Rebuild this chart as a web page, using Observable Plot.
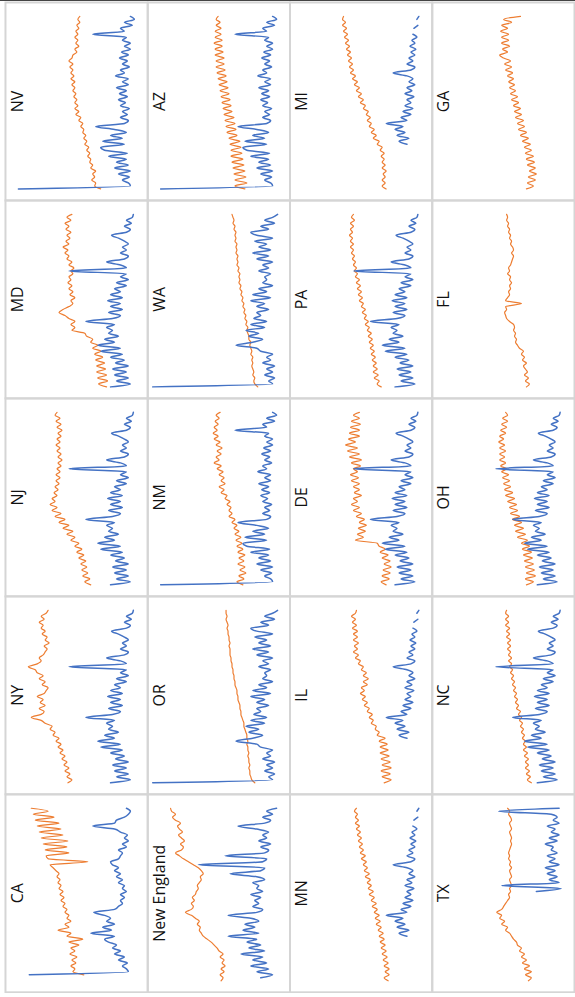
<!DOCTYPE html>
<html><head><meta charset="utf-8">
<script src="https://cdn.jsdelivr.net/npm/d3@7"></script>
<script src="https://cdn.jsdelivr.net/npm/@observablehq/plot@0.6"></script>
<style>
html,body{margin:0;padding:0;background:#fff;overflow:hidden;}
#topline{position:absolute;left:0;top:0;width:100%;height:1px;background:#444;}
</style></head><body>
<div id="chart"></div><div id="topline"></div>
<script>
// panel layout (as pictured, rotated view): rows of state names
const grid = [["NV","AZ","MI","GA"],["MD","WA","PA","FL"],["NJ","NM","DE","OH"],["NY","OR","IL","NC"],["CA","New England","MN","TX"]];

// orange series (one per state), index = time step
const NV_orange = [44,50,49,53,50,52,49,54,52,55,54,57,55,58,56,60,58,61,59,62,61,64,62,66,64,69,66,70,67,70,68,71,69,72,70,73,70,74,71,74,72,75,72,76,73,72,68,70,66,69,67,70,67,69,66,68,65,67,65];
const AZ_orange = [42,52,40,52,41,53,42,54,43,55,44,56,45,56,46,57,47,58,50,60,51,61,52,62,53,63,55,64,56,65,57,66,58,67,59,68,60,69,61,70,62,71,63,71,63,72,64,72,65,73,65,72,66,72,66,71,67,71,69];
const MI_orange = [43,47,44,47,44,46,43,47,44,47,45,48,45,49,47,52,50,56,53,58,55,60,58,62,59,63,61,66,64,69,66,71,68,73,70,75,72,77,74,79,76,80,77,81,78,82,79,83,80,84,81,85,82,86,83,87,84,87,86];
const GA_orange = [45,38,44,36,43,35,42,36,44,37,45,38,46,40,47,41,49,43,51,45,53,47,54,48,56,50,57,51,58,53,60,54,61,56,62,57,63,58,64,59,66,60,67,61,68,72,64,69,62,70,63,70,63,71,64,70,60,68,51];
const MD_orange = [38,46,37,47,38,48,39,48,40,49,42,50,44,52,47,54,52,58,60,73,70,74,70,76,80,86,82,76,72,74,70,75,72,76,73,77,74,76,72,74,71,76,73,78,76,80,77,82,76,79,75,78,74,79,76,80,74,78,73];
const WA_orange = [29,32,33,32,34,33,34,35,34,35,34,36,35,36,37,36,38,38,39,40,39,41,40,42,41,43,42,44,43,45,44,46,45,47,46,48,47,48,47,49,48,50,49,50,49,51,50,51,50,52,51,52,51,53,52,54,53,54,55];
const PA_orange = [48,52,50,55,51,56,52,56,53,57,54,58,55,59,56,60,57,61,58,62,60,64,61,65,63,67,64,68,66,70,67,71,68,72,69,73,70,74,72,75,73,76,74,77,75,78,76,79,76,79,77,80,77,79,76,79,75,78,76];
const FL_orange = [45,42,46,43,47,44,46,48,45,49,47,50,48,52,54,56,55,57,56,58,57,58,62,65,66,67,65,66,50,66,64,62,63,61,62,60,62,61,64,62,63,61,60,59,58,60,58,59,61,60,62,61,63,62,64,63,65,64,65];
const NJ_orange = [54,60,55,62,57,63,58,64,59,66,61,68,63,70,66,74,70,78,72,82,76,86,80,90,84,93,88,95,90,93,88,91,87,90,86,89,85,89,85,88,84,87,83,87,84,88,85,89,85,88,84,87,83,88,84,89,85,90,88];
const NM_orange = [44,50,43,48,41,47,42,49,43,48,42,49,44,50,45,51,46,52,48,53,50,55,52,58,55,58,56,60,57,62,60,66,63,68,62,66,63,68,64,70,66,73,68,71,66,70,65,71,67,73,69,74,70,73,69,72,68,71,67];
const DE_orange = [43,48,40,47,39,46,38,45,39,47,41,49,44,50,52,74,66,72,64,71,63,70,65,73,68,76,70,78,72,76,68,75,70,76,70,78,71,79,72,76,69,78,68,80,70,82,72,84,74,81,70,80,70,79,69,78,70,76,70];
const OH_orange = [45,38,46,36,45,37,46,38,47,39,48,40,49,42,50,44,54,46,56,48,57,50,59,52,61,54,62,55,64,57,66,59,67,61,68,62,69,63,70,65,71,66,72,67,72,66,72,67,73,68,72,66,71,65,70,64,69,64,66];
const NY_orange = [77,73,78,75,80,76,81,78,83,80,85,82,87,84,89,86,92,90,95,93,100,104,114,104,101,106,100,105,102,108,101,99,97,103,100,106,102,108,110,117,108,104,106,102,100,98,101,96,100,98,103,100,104,102,106,101,104,99,97];
const OR_orange = [32,35,36,37,37,38,37,38,38,39,38,39,39,40,39,40,40,41,42,43,43,44,45,46,46,47,47,48,49,49,50,50,51,52,52,53,53,54,54,55,55,56,56,57,57,57,58,57,58,58,59,59,60,59,60,61,60,61,61];
const IL_orange = [45,38,47,39,48,38,47,39,48,40,49,41,49,42,50,44,52,50,54,53,58,56,60,57,62,60,65,62,67,64,69,65,68,62,66,61,66,63,68,66,71,69,74,71,76,72,75,71,76,72,76,72,77,73,77,74,78,74,73];
const NC_orange = [40,44,41,45,42,46,43,46,43,47,44,48,45,48,46,49,47,50,48,51,49,52,50,53,51,55,53,56,54,57,55,58,56,59,57,60,58,61,59,62,60,63,60,63,61,64,61,64,61,65,62,65,62,66,63,66,63,66,65];
const CA_orange = [null,null,61,72,70,74,69,73,68,75,70,74,66,76,62,78,74,87,76,80,74,78,76,80,78,82,80,84,81,85,82,86,84,87,85,88,86,89,92,95,57,97,99,76,100,78,102,77,104,82,106,84,108,86,110,91,112,97,114];
const NE_orange = [66,64,67,63,66,62,65,63,67,64,68,70,73,76,80,84,86,88,87,90,88,92,96,102,96,94,96,93,95,92,91,89,90,88,86,87,84,86,89,94,99,104,108,112,106,104,107,103,106,109,105,108,110,107,112,115,112,116,117];
const MN_orange = [41,45,40,44,40,45,41,46,42,47,43,48,44,49,45,50,46,51,48,53,49,54,50,55,52,57,53,58,55,60,56,61,58,62,59,64,60,65,62,66,63,68,64,69,66,70,67,71,68,72,69,73,70,74,71,74,72,75,73];
const TX_orange = [43,40,46,40,47,42,49,45,50,47,52,50,54,55,58,60,62,66,64,70,67,72,70,75,70,68,66,64,62,63,61,62,60,61,62,60,61,62,60,62,61,63,62,63,62,61,60,61,60,61,62,60,61,62,60,61,63,62,64];

// blue series (regional, shared by several panels)
const B_W  = [127,14,16,22,15,26,14,30,16,28,18,36,17,40,44,20,42,22,34,18,30,49,20,16,24,17,22,15,24,19,26,17,25,18,28,16,22,16,29,20,24,15,22,17,25,16,23,14,20,14,22,18,52,20,24,12,20,10,14];
const B_NW = [135,14,18,12,22,14,20,12,24,16,20,14,26,30,51,34,24,38,28,41,22,36,20,33,26,30,18,30,22,36,16,34,20,28,14,24,20,22,16,28,18,24,14,30,18,34,16,28,20,32,14,30,36,18,26,12,22,14,9];
const B_E  = [34,14,28,16,30,18,32,16,29,20,34,22,44,24,47,30,40,26,36,32,38,30,59,32,24,36,22,34,24,37,22,34,24,30,18,28,16,24,18,76,18,24,38,20,16,24,18,22,16,20,26,33,18,14,20,13,18,12,11];
const B_MW = [null,null,null,null,null,null,null,null,null,null,null,null,null,null,null,22,30,20,32,24,34,26,43,22,28,18,26,16,24,18,22,15,24,17,22,14,20,16,22,36,18,14,22,16,20,14,18,13,19,14,17,12,16,null,15,11,null,12,10];
const B_CA = [null,null,116,16,18,22,17,26,20,30,24,32,28,36,40,30,54,33,42,30,38,34,40,51,30,26,22,24,20,24,18,22,20,26,22,28,24,30,26,32,34,26,24,22,26,18,22,16,20,17,24,30,52,30,28,20,16,14,18];
const B_NE = [null,26,14,30,18,36,20,34,24,46,22,38,26,40,30,59,28,44,32,42,28,36,59,30,24,34,28,32,26,36,24,30,28,34,22,30,57,26,22,89,24,20,62,22,18,26,16,28,20,24,18,30,49,22,16,24,14,20,10];
const B_TX = [null,null,null,null,null,null,null,null,null,null,null,null,null,null,null,null,null,null,null,null,null,null,null,null,null,null,null,null,null,null,35,10,70,12,22,14,24,16,26,12,22,16,24,14,20,18,26,14,22,12,20,16,24,12,18,14,20,73,12];

const orangeOf = {NV:NV_orange, AZ:AZ_orange, MI:MI_orange, GA:GA_orange, MD:MD_orange, WA:WA_orange, PA:PA_orange, FL:FL_orange,
  NJ:NJ_orange, NM:NM_orange, DE:DE_orange, OH:OH_orange, NY:NY_orange, OR:OR_orange, IL:IL_orange, NC:NC_orange,
  CA:CA_orange, "New England":NE_orange, MN:MN_orange, TX:TX_orange};
const blueOf = {NV:B_W, AZ:B_W, NM:B_W, WA:B_NW, OR:B_NW, MD:B_E, PA:B_E, NJ:B_E, DE:B_E, OH:B_E, NY:B_E, NC:B_E,
  MI:B_MW, IL:B_MW, MN:B_MW, CA:B_CA, "New England":B_NE, TX:B_TX};

const data = [];
grid.forEach((names, row) => names.forEach((name, col) => {
  data.push({kind: "label", name, col, row});
  (orangeOf[name] || []).forEach((v, t) => data.push({kind: "orange", col, row, t, v}));
  (blueOf[name] || []).forEach((v, t) => data.push({kind: "blue", col, row, t, v}));
}));

const chart = Plot.plot({
  width: 578, height: 998,
  marginTop: 0, marginRight: 0, marginBottom: 0, marginLeft: 4,
  style: {background: "white", fontFamily: "'Open Sans', sans-serif", overflow: "visible"},
  facet: {data, x: "col", y: "row"},
  fx: {domain: [0,1,2,3], padding: 0, axis: null},
  fy: {domain: [0,1,2,3,4], padding: 0, axis: null},
  x: {domain: [0,130], reverse: true, insetLeft: 10, insetRight: 3.5, axis: null},
  y: {domain: [0,58], insetTop: 14, insetBottom: 11.6, axis: null},
  marks: [
    Plot.frame({stroke: "#d5d5d5", strokeWidth: 2}),
    Plot.line(data, {filter: d => d.kind === "orange", x: "v", y: "t", curve: "monotone-y", stroke: "#ED7D31", strokeWidth: 1.2, strokeLinejoin: "round"}),
    Plot.line(data, {filter: d => d.kind === "blue", x: "v", y: "t", curve: "monotone-y", stroke: "#4472C4", strokeWidth: 1.5, strokeLinejoin: "round"}),
    Plot.text(data, {filter: d => d.kind === "label", text: "name", frameAnchor: "left", textAnchor: "middle", dx: 12, rotate: -90, fontSize: 16, fill: "#111"})
  ]
});
document.getElementById("chart").appendChild(chart);
</script></body></html>
